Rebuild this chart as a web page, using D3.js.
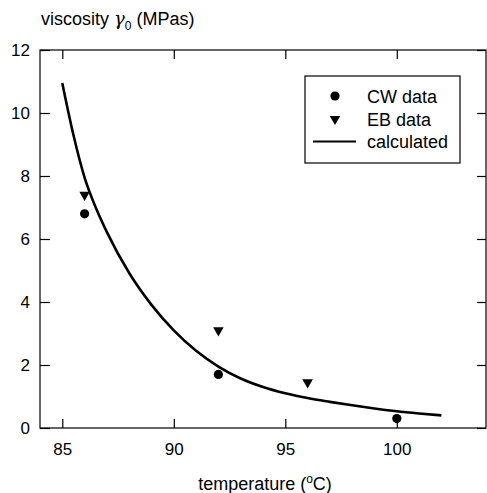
<!DOCTYPE html>
<html>
<head>
<meta charset="utf-8">
<script src="https://cdnjs.cloudflare.com/ajax/libs/d3/7.8.5/d3.min.js"></script>
<style>
  body { margin: 0; background: #fff; }
  svg { display: block; font-family: "Liberation Sans", Arial, sans-serif; }
  .axis text { font-size: 17px; fill: #000; }
  .axis line { stroke: #000; stroke-width: 1.2; }
</style>
</head>
<body>
<svg id="chart"></svg>
<script>
// measured data
const cwTemp = [86, 92, 100];
const cwVisc = [6.8, 1.7, 0.3];
const ebTemp = [86, 92, 96];
const ebVisc = [7.4, 3.1, 1.45];

// calculated curve
const calcTemp = [85, 85.5, 86, 86.5, 87, 88, 89, 90, 91, 92, 93, 94, 95, 96, 97, 98, 99, 100, 101, 102];
const calcVisc = [10.95, 9.3, 7.95, 7.0, 6.22, 4.92, 3.91, 3.1, 2.45, 1.95, 1.57, 1.3, 1.1, 0.95, 0.83, 0.72, 0.62, 0.53, 0.46, 0.4];

const xTicks = [85, 90, 95, 100];
const yTicks = [0, 2, 4, 6, 8, 10, 12];
const legendLabels = ["CW data", "EB data", "calculated"];

const W = 487, H = 493;
const margin = { top: 50, right: 1, bottom: 65, left: 40 };
const width = W - margin.left - margin.right;
const height = H - margin.top - margin.bottom;

const svg = d3.select("#chart").attr("width", W).attr("height", H);
const g = svg.append("g").attr("transform", `translate(${margin.left},${margin.top})`);

const x = d3.scaleLinear().domain([84, 104]).range([0, width]);
const y = d3.scaleLinear().domain([0, 12]).range([height, 0]);

// axes with inward ticks
g.append("g").attr("class", "axis")
  .attr("transform", `translate(0,${height})`)
  .call(d3.axisBottom(x).tickValues(xTicks).tickSize(-9).tickPadding(15))
  .call(a => a.select(".domain").remove());
g.append("g").attr("class", "axis")
  .call(d3.axisTop(x).tickValues(xTicks).tickSize(-9).tickFormat(""))
  .call(a => a.select(".domain").remove());
g.append("g").attr("class", "axis")
  .call(d3.axisLeft(y).tickValues(yTicks).tickSize(-10).tickPadding(10))
  .call(a => a.select(".domain").remove());
g.append("g").attr("class", "axis")
  .attr("transform", `translate(${width},0)`)
  .call(d3.axisRight(y).tickValues(yTicks).tickSize(-9).tickFormat(""))
  .call(a => a.select(".domain").remove());

g.append("rect")
  .attr("width", width).attr("height", height)
  .attr("fill", "none").attr("stroke", "#000").attr("stroke-width", 1.2);

// calculated line
const calc = calcTemp.map((t, i) => ({ t: t, v: calcVisc[i] }));
const line = d3.line().x(d => x(d.t)).y(d => y(d.v)).curve(d3.curveMonotoneX);
g.append("path").datum(calc)
  .attr("fill", "none").attr("stroke", "#000").attr("stroke-width", 2.6)
  .attr("d", line);

const tri = d3.symbol().type(d3.symbolTriangle).size(48);

g.selectAll(".cw").data(cwTemp).join("circle")
  .attr("cx", d => x(d)).attr("cy", (d, i) => y(cwVisc[i]))
  .attr("r", 4.6).attr("fill", "#000");

g.selectAll(".eb").data(ebTemp).join("path")
  .attr("d", tri)
  .attr("transform", (d, i) => `translate(${x(d)},${y(ebVisc[i])}) rotate(180)`)
  .attr("fill", "#000");

// legend
const lg = svg.append("g");
lg.append("rect").attr("x", 305).attr("y", 76).attr("width", 155).attr("height", 87)
  .attr("fill", "#fff").attr("stroke", "#000").attr("stroke-width", 1.2);
lg.append("circle").attr("cx", 335).attr("cy", 96).attr("r", 4.6).attr("fill", "#000");
lg.append("path").attr("d", tri).attr("transform", "translate(335,119) rotate(180)").attr("fill", "#000");
lg.append("line").attr("x1", 313).attr("x2", 356).attr("y1", 141.5).attr("y2", 141.5)
  .attr("stroke", "#000").attr("stroke-width", 2);
legendLabels.forEach((l, i) => {
  lg.append("text").attr("x", 367).attr("y", 103 + i * 22.7)
    .attr("font-size", 18).text(l);
});

// axis titles
const yt = svg.append("text").attr("x", 41).attr("y", 25).attr("font-size", 18);
yt.append("tspan").text("viscosity ");
yt.append("tspan").attr("font-style", "italic").attr("font-family", "DejaVu Serif, serif").text("γ");
yt.append("tspan").attr("font-size", 12).attr("dy", 5).text("0");
yt.append("tspan").attr("dy", -5).text(" (MPas)");

const xt = svg.append("text").attr("x", 265).attr("y", 490).attr("font-size", 18).attr("text-anchor", "middle");
xt.append("tspan").text("temperature (");
xt.append("tspan").attr("font-size", 12).attr("dy", -7).text("o");
xt.append("tspan").attr("dy", 7).text("C)");
</script>
</body>
</html>
